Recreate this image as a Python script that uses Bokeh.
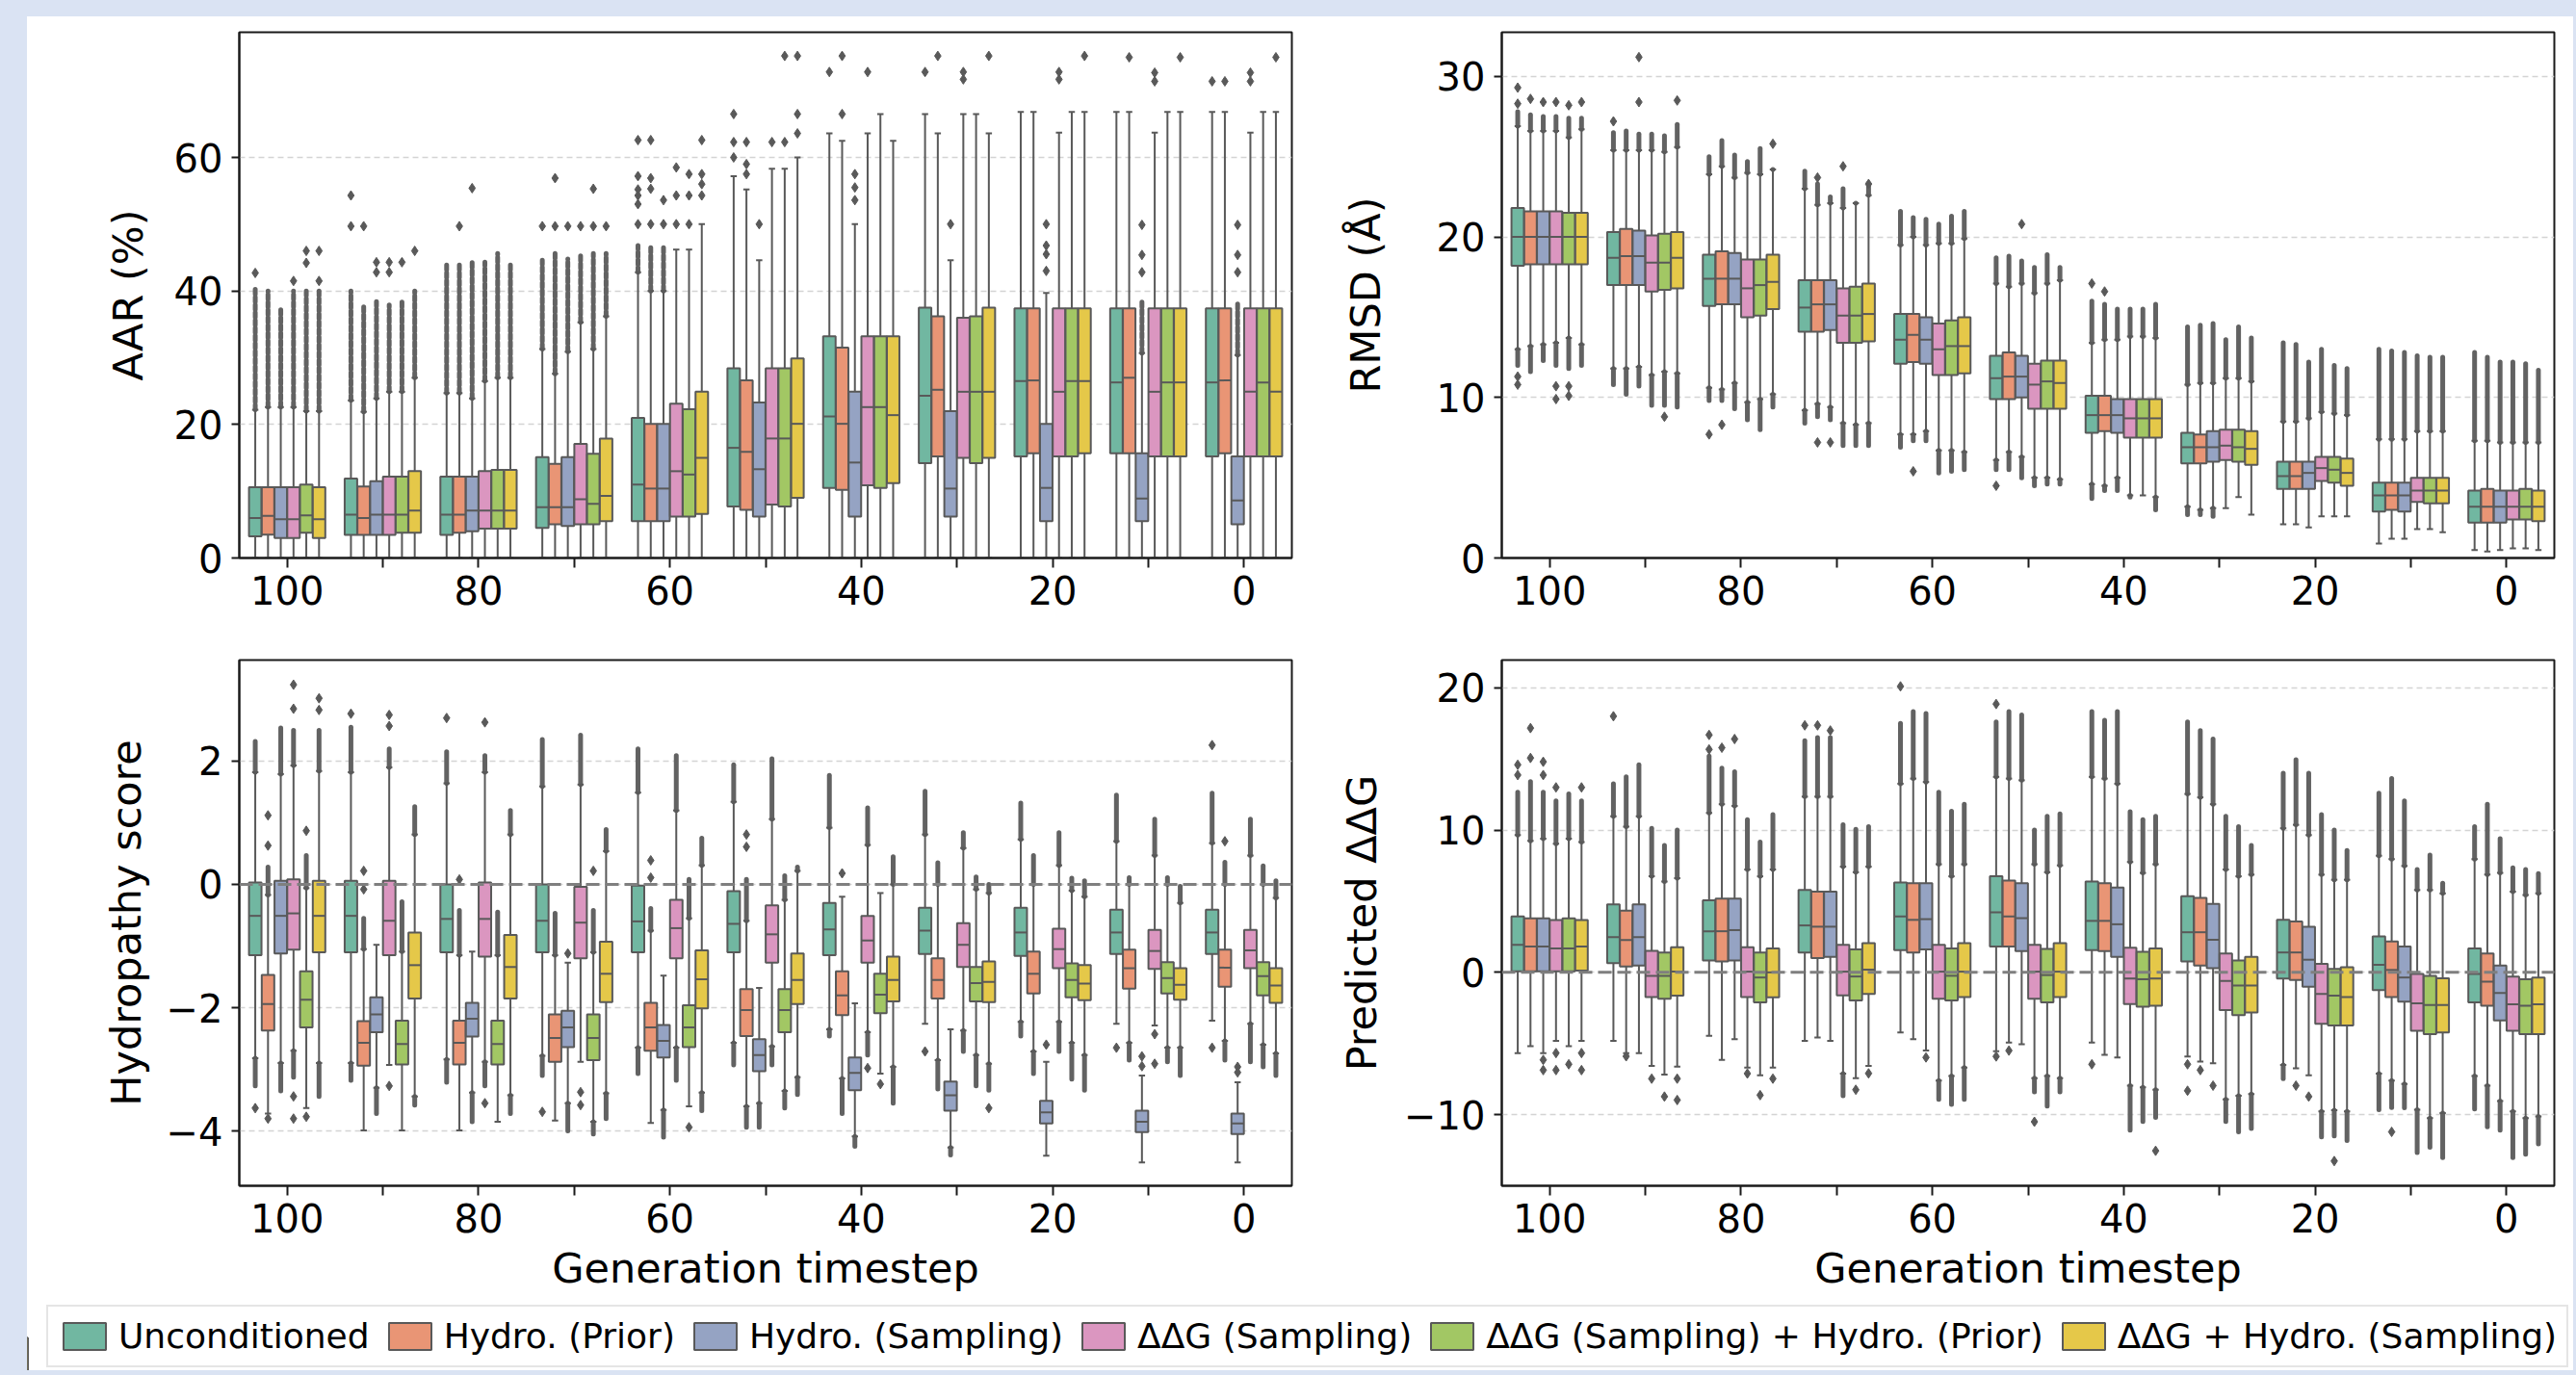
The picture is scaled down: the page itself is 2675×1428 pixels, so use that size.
from bokeh.plotting import figure
from bokeh.models import FixedTicker, Range1d, Span, Legend, LegendItem, Spacer
from bokeh.layouts import column, row
from bokeh.embed import file_html
from bokeh.resources import INLINE

# ---------------- data ----------------
timesteps = [100, 90, 80, 70, 60, 50, 40, 30, 20, 10, 0]
xtick_labels = ["100", "", "80", "", "60", "", "40", "", "20", "", "0"]
series_names = ["Unconditioned", "Hydro. (Prior)", "Hydro. (Sampling)", "ΔΔG (Sampling)",
                "ΔΔG (Sampling) + Hydro. (Prior)", "ΔΔG + Hydro. (Sampling)"]
series_colors = ["#71b7a1", "#e99575", "#95a3c3", "#db96c0", "#a2c764", "#e5c849"]

# rows = timesteps (100 ... 0), columns = series
aar_q1 = [[3.25, 3.5, 3.0, 3.0, 3.8, 3.0], [3.45, 3.45, 3.45, 3.45, 3.8, 3.8], [3.45, 3.8, 4.0, 4.4, 4.4, 4.4],
          [4.5, 5.05, 4.8, 5.05, 5.05, 5.5], [5.5, 5.5, 5.5, 6.2, 6.2, 6.6], [7.7, 7.2, 6.2, 8.0, 7.7, 9.0],
          [10.5, 10.2, 6.2, 10.9, 10.5, 11.2], [14.2, 15.2, 6.2, 15.0, 14.2, 15.0], [15.2, 15.7, 5.5, 15.2, 15.2, 15.7],
          [15.7, 15.7, 5.5, 15.2, 15.2, 15.2], [15.2, 15.7, 5.05, 15.2, 15.2, 15.2]]
aar_med = [[6.0, 6.3, 5.8, 5.8, 6.4, 5.8], [6.5, 6.0, 6.5, 6.5, 6.5, 7.1], [6.5, 6.5, 7.1, 7.1, 7.1, 7.1],
           [7.6, 7.6, 7.6, 8.8, 8.1, 9.3], [11.0, 10.4, 10.4, 13.0, 12.5, 15.0], [16.5, 15.9, 13.3, 17.9, 17.9, 20.1],
           [21.2, 20.1, 14.3, 22.6, 22.6, 21.4], [24.3, 25.2, 10.4, 24.9, 24.9, 24.9], [26.5, 26.6, 10.5, 24.9, 26.5, 26.5],
           [26.3, 27.0, 8.9, 24.9, 26.3, 26.3], [26.3, 26.6, 8.6, 24.9, 26.3, 24.9]]
aar_q3 = [[10.6, 10.6, 10.6, 10.6, 11.0, 10.6], [11.9, 10.7, 11.5, 12.2, 12.2, 13.0], [12.2, 12.2, 12.2, 13.0, 13.2, 13.2],
          [15.1, 14.1, 15.1, 17.1, 15.6, 17.9], [21.0, 20.1, 20.1, 23.1, 22.3, 24.9], [28.4, 26.6, 23.3, 28.4, 28.4, 29.9],
          [33.2, 31.5, 24.9, 33.2, 33.2, 33.2], [37.5, 36.2, 22.0, 36.0, 36.2, 37.5], [37.4, 37.4, 20.1, 37.4, 37.4, 37.4],
          [37.4, 37.4, 15.7, 37.4, 37.4, 37.4], [37.4, 37.4, 15.2, 37.4, 37.4, 37.4]]
aar_whi = [[22.2, 22.6, 22.6, 22.6, 22.0, 22.0], [23.6, 21.9, 23.9, 24.9, 24.9, 27.0], [24.7, 24.7, 23.9, 26.5, 27.0, 27.0],
           [31.3, 27.6, 30.9, 35.3, 31.3, 36.2], [42.8, 40.0, 40.0, 46.2, 46.2, 50.0], [57.2, 55.2, 44.6, 58.3, 58.3, 60.0],
           [63.6, 62.5, 50.0, 63.6, 66.5, 62.5], [66.5, 63.6, 44.6, 66.5, 66.5, 63.6], [66.8, 66.8, 39.7, 63.7, 66.8, 66.8],
           [66.8, 66.8, 30.7, 63.7, 66.8, 66.8], [66.8, 66.8, 30.4, 63.7, 66.8, 66.8]]
aar_wlo = [[0, 0, 0, 0, 0, 0], [0, 0, 0, 0, 0, 0], [0, 0, 0, 0, 0, 0], [0, 0, 0, 0, 0, 0], [0, 0, 0, 0, 0, 0],
           [0, 0, 0, 0, 0, 0], [0, 0, 0, 0, 0, 0], [0, 0, 0, 0, 0, 0], [0, 0, 0, 0, 0, 0], [0, 0, 0, 0, 0, 0],
           [0, 0, 0, 0, 0, 0]]
aar_hib = [[40.5, 40.0, 37.6, 40.0, 40.0, 40.0], [40.0, 37.6, 38.4, 37.9, 38.4, 40.0], [44.3, 44.3, 44.3, 44.3, 45.6, 44.3],
           [44.6, 45.6, 44.8, 45.6, 45.6, 45.6], [46.8, 46.8, 46.8, None, None, None],
           [None, None, None, None, None, None], [None, None, None, None, None, None],
           [None, None, None, None, None, None], [None, None, None, None, None, None],
           [None, None, 38.4, None, None, None], [None, None, 38.4, None, None, None]]
aar_lob = [[None, None, None, None, None, None] for _ in timesteps]
aar_iso = [(0, 0, 42.7), (3, 0, 41.5), (4, 0, 44.2), (4, 0, 46.0), (5, 0, 41.5), (5, 0, 46.0),
           (0, 1, 49.7), (0, 1, 54.3), (1, 1, 49.7), (2, 1, 42.8), (2, 1, 44.3), (3, 1, 42.8), (3, 1, 44.3),
           (4, 1, 44.3), (5, 1, 46.0), (1, 2, 49.7), (2, 2, 55.4),
           (0, 3, 49.7), (1, 3, 49.7), (1, 3, 56.9), (2, 3, 49.7), (3, 3, 49.7), (4, 3, 49.7), (4, 3, 55.3), (5, 3, 49.7),
           (0, 4, 50.0), (0, 4, 53.0), (0, 4, 54.3), (0, 4, 55.2), (0, 4, 57.2), (0, 4, 62.6),
           (1, 4, 50.0), (1, 4, 55.3), (1, 4, 56.9), (1, 4, 62.6), (2, 4, 50.0), (2, 4, 53.6),
           (3, 4, 50.0), (3, 4, 54.3), (3, 4, 58.5), (4, 4, 50.0), (4, 4, 54.3), (4, 4, 57.5),
           (5, 4, 54.3), (5, 4, 56.0), (5, 4, 57.5), (5, 4, 62.6),
           (0, 5, 60.0), (0, 5, 62.3), (0, 5, 66.5), (1, 5, 57.5), (1, 5, 59.0), (1, 5, 62.3), (2, 5, 50.0),
           (3, 5, 62.3), (4, 5, 62.3), (4, 5, 75.2), (5, 5, 63.6), (5, 5, 66.5), (5, 5, 75.2),
           (0, 6, 72.8), (1, 6, 66.5), (1, 6, 75.2), (2, 6, 53.6), (2, 6, 55.5), (2, 6, 57.5), (3, 6, 72.8),
           (0, 7, 72.8), (1, 7, 75.2), (2, 7, 50.0), (3, 7, 71.7), (3, 7, 72.8), (5, 7, 75.2),
           (2, 8, 43.0), (2, 8, 45.5), (2, 8, 46.8), (2, 8, 50.0), (3, 8, 71.7), (3, 8, 72.8), (5, 8, 75.2),
           (1, 9, 75.0), (2, 9, 42.8), (2, 9, 45.4), (2, 9, 49.9), (3, 9, 71.4), (3, 9, 72.7), (5, 9, 75.0),
           (0, 10, 71.4), (1, 10, 71.4), (2, 10, 42.8), (2, 10, 45.4), (2, 10, 49.9), (3, 10, 71.4), (3, 10, 72.7),
           (5, 10, 75.0)]

rmsd_q1 = [[18.2, 18.3, 18.3, 18.3, 18.3, 18.3], [17.0, 17.0, 17.0, 16.6, 16.7, 16.8], [15.7, 15.8, 15.8, 15.0, 15.1, 15.5],
           [14.1, 14.1, 14.2, 13.4, 13.4, 13.5], [12.1, 12.2, 12.1, 11.4, 11.4, 11.5], [9.9, 9.9, 10.0, 9.3, 9.3, 9.3],
           [7.8, 7.9, 7.8, 7.5, 7.5, 7.5], [5.9, 5.9, 6.0, 6.1, 6.0, 5.8], [4.3, 4.3, 4.3, 4.8, 4.7, 4.5],
           [2.9, 3.0, 2.9, 3.5, 3.4, 3.4], [2.2, 2.2, 2.2, 2.4, 2.4, 2.3]]
rmsd_med = [[20.0, 20.0, 20.0, 20.0, 20.0, 20.0], [18.7, 18.8, 18.8, 18.4, 18.4, 18.7], [17.4, 17.4, 17.4, 16.8, 17.0, 17.2],
            [15.6, 15.8, 15.8, 15.1, 15.1, 15.2], [13.6, 13.9, 13.6, 13.0, 13.2, 13.2], [11.2, 11.3, 11.3, 10.8, 11.0, 10.9],
            [8.9, 8.9, 8.9, 8.7, 8.7, 8.7], [6.9, 6.9, 6.9, 7.0, 6.9, 6.8], [5.1, 5.1, 5.3, 5.6, 5.5, 5.3],
            [3.9, 3.9, 3.9, 4.2, 4.2, 4.2], [3.2, 3.2, 3.2, 3.2, 3.2, 3.2]]
rmsd_q3 = [[21.8, 21.6, 21.6, 21.6, 21.5, 21.5], [20.3, 20.5, 20.4, 20.1, 20.2, 20.3], [18.9, 19.1, 19.0, 18.6, 18.6, 18.9],
           [17.3, 17.3, 17.3, 16.8, 16.9, 17.1], [15.2, 15.2, 15.0, 14.6, 14.8, 15.0], [12.6, 12.8, 12.6, 12.1, 12.3, 12.3],
           [10.1, 10.1, 9.9, 9.9, 9.9, 9.9], [7.8, 7.7, 7.9, 8.0, 8.0, 7.9], [6.0, 6.0, 6.0, 6.3, 6.3, 6.2],
           [4.7, 4.7, 4.7, 5.0, 5.0, 5.0], [4.2, 4.3, 4.2, 4.2, 4.3, 4.2]]
rmsd_whi = [[26.9, 26.6, 26.6, 26.6, 26.2, 26.7], [25.4, 25.4, 25.4, 25.4, 25.3, 25.6], [23.9, 24.4, 23.7, 24.0, 23.9, 24.2],
            [23.0, 22.0, 22.1, 21.8, 22.1, 22.6], [19.5, 20.0, 19.5, 19.6, 19.6, 19.9], [17.1, 16.9, 17.1, 16.5, 17.1, 17.3],
            [13.4, 13.6, 13.6, 13.8, 13.8, 13.7], [10.8, 10.9, 10.9, 11.2, 11.2, 11.0], [8.5, 8.5, 8.7, 9.1, 9.0, 8.9],
            [7.4, 7.4, 7.4, 7.9, 7.9, 7.9], [7.3, 7.3, 7.2, 7.2, 7.2, 7.2]]
rmsd_wlo = [[13.0, 13.2, 13.3, 13.4, 13.7, 13.3], [11.8, 11.8, 11.9, 11.4, 11.6, 11.5], [10.6, 10.5, 10.9, 9.7, 9.9, 10.2],
            [9.2, 9.6, 9.4, 8.4, 8.3, 8.4], [7.7, 7.7, 7.9, 6.7, 6.7, 6.6], [6.1, 6.6, 6.3, 5.0, 5.0, 4.9],
            [4.6, 4.5, 5.0, 3.9, 3.9, 3.8], [3.2, 3.0, 3.1, 3.1, 3.8, 2.7], [2.1, 2.1, 1.9, 2.6, 2.6, 2.6],
            [0.9, 1.2, 1.2, 1.8, 1.8, 1.6], [0.5, 0.4, 0.5, 0.6, 0.6, 0.5]]
rmsd_hib = [[27.8, 27.6, 27.5, 27.5, 27.4, 27.4], [26.5, 26.6, 26.4, 26.4, 26.3, 27.0], [25.0, 26.0, 25.1, 24.7, 25.5, 24.2],
            [24.1, 23.3, 22.5, 23.0, 22.1, 23.3], [21.6, 21.2, 21.1, 20.8, 21.3, 21.6], [18.7, 18.8, 18.5, 18.1, 18.9, 18.1],
            [16.0, 15.8, 15.5, 15.5, 15.5, 15.8], [14.4, 14.5, 14.6, 13.6, 14.4, 13.7], [13.4, 13.3, 12.2, 13.0, 12.0, 11.8],
            [13.0, 12.9, 12.8, 12.6, 12.5, 12.5], [12.8, 12.5, 12.2, 12.2, 12.1, 11.7]]
rmsd_lob = [[12.0, 11.6, 12.3, 12.0, 11.8, 12.0], [10.8, 10.2, 10.7, 9.5, 9.5, 9.4], [9.8, 9.8, 9.3, 8.6, 8.0, 9.4],
            [8.4, 8.8, 8.6, 7.0, 7.0, 7.0], [6.9, 7.3, 7.3, 5.3, 5.4, 5.5], [5.5, 5.5, 5.0, 4.5, 4.6, 4.6],
            [3.7, 4.2, 4.2, 3.8, None, 3.0], [2.7, 2.7, 2.6, None, None, None],
            [None, None, None, None, None, None], [None, None, None, None, None, None],
            [None, None, None, None, None, None]]
rmsd_iso = [(0, 0, 28.3), (0, 0, 29.3), (1, 0, 28.6), (2, 0, 28.4), (3, 0, 28.4), (4, 0, 28.2), (5, 0, 28.4),
            (0, 0, 11.3), (0, 0, 10.8), (3, 0, 10.7), (3, 0, 9.9), (4, 0, 10.7), (4, 0, 10.1),
            (0, 1, 27.2), (2, 1, 28.4), (2, 1, 31.2), (5, 1, 28.5), (4, 1, 8.8),
            (0, 2, 7.7), (1, 2, 8.3), (5, 2, 25.8), (1, 3, 23.7), (3, 3, 24.4), (5, 3, 23.3), (1, 3, 7.2), (2, 3, 7.2),
            (1, 4, 5.4), (2, 5, 20.8), (0, 5, 4.5), (0, 6, 17.1), (1, 6, 16.6)]

hyd_q1 = [[-1.15, -2.37, -1.12, -1.06, -2.32, -1.10], [-1.10, -2.94, -2.40, -1.15, -2.92, -1.85],
          [-1.10, -2.92, -2.47, -1.17, -2.92, -1.85], [-1.10, -2.88, -2.64, -1.20, -2.85, -1.91],
          [-1.10, -2.70, -2.81, -1.20, -2.64, -2.01], [-1.10, -2.46, -3.03, -1.27, -2.40, -1.94],
          [-1.15, -2.12, -3.34, -1.27, -2.09, -1.90], [-1.13, -1.85, -3.67, -1.34, -1.90, -1.91],
          [-1.16, -1.77, -3.88, -1.36, -1.83, -1.88], [-1.13, -1.69, -4.02, -1.37, -1.77, -1.87],
          [-1.13, -1.66, -4.05, -1.36, -1.80, -1.92]]
hyd_med = [[-0.51, -1.94, -0.51, -0.47, -1.87, -0.51], [-0.51, -2.57, -2.11, -0.59, -2.59, -1.31],
           [-0.56, -2.57, -2.18, -0.56, -2.59, -1.34], [-0.59, -2.49, -2.32, -0.62, -2.49, -1.45],
           [-0.60, -2.32, -2.54, -0.71, -2.32, -1.54], [-0.64, -2.04, -2.77, -0.81, -2.04, -1.55],
           [-0.73, -1.80, -3.06, -0.91, -1.79, -1.55], [-0.75, -1.55, -3.42, -0.98, -1.60, -1.58],
           [-0.78, -1.45, -3.70, -1.05, -1.55, -1.61], [-0.78, -1.36, -3.85, -1.08, -1.52, -1.63],
           [-0.78, -1.35, -3.88, -1.07, -1.49, -1.64]]
hyd_q3 = [[0.03, -1.47, 0.06, 0.08, -1.41, 0.06], [0.06, -2.22, -1.83, 0.06, -2.21, -0.78],
          [0.0, -2.21, -1.92, 0.03, -2.21, -0.82], [0.0, -2.11, -2.05, -0.04, -2.11, -0.93],
          [-0.02, -1.92, -2.28, -0.25, -1.96, -1.07], [-0.11, -1.70, -2.51, -0.34, -1.70, -1.12],
          [-0.30, -1.41, -2.81, -0.51, -1.45, -1.17], [-0.38, -1.20, -3.20, -0.63, -1.34, -1.25],
          [-0.38, -1.09, -3.51, -0.72, -1.28, -1.31], [-0.41, -1.06, -3.67, -0.74, -1.26, -1.36],
          [-0.41, -1.06, -3.72, -0.74, -1.26, -1.36]]
hyd_whi = [[1.82, -0.17, 1.79, 1.93, -0.06, 1.84], [1.82, -1.05, -0.98, 1.90, -1.09, 0.81],
           [1.64, -1.15, -1.09, 1.82, -1.15, 0.81], [1.59, -1.15, -1.27, 1.62, -1.10, 0.54],
           [1.49, -0.75, -1.48, 1.20, -0.55, 0.31], [1.34, -0.59, -1.68, 1.06, -0.25, 0.22],
           [0.92, -0.20, -1.93, 0.64, -0.14, 0.0], [0.81, 0.0, -2.35, 0.59, -0.08, -0.14],
           [0.73, 0.0, -2.88, 0.31, -0.10, -0.20], [0.70, 0.0, -3.10, 0.47, 0.0, -0.30],
           [0.67, 0.0, -3.21, 0.47, 0.0, -0.22]]
hyd_wlo = [[-2.82, -3.72, -2.90, -2.70, -3.63, -2.90], [-2.90, -3.99, -3.30, -2.93, -3.99, -3.44],
           [-2.84, -3.99, -3.38, -2.88, -3.85, -3.42], [-2.78, -3.83, -3.55, -2.88, -3.85, -3.39],
           [-2.65, -3.87, -3.66, -2.65, -3.60, -3.38], [-2.57, -3.60, -3.55, -2.63, -3.35, -3.13],
           [-2.35, -3.15, -4.09, -2.40, -3.07, -2.96], [-2.26, -2.85, -4.27, -2.37, -2.77, -2.91],
           [-2.23, -2.71, -4.40, -2.23, -2.57, -2.77], [-2.26, -2.57, -4.51, -2.29, -2.65, -2.65],
           [-2.21, -2.54, -4.51, -2.26, -2.60, -2.74]]
hyd_hib = [[2.32, 0.28, 2.54, 2.50, 0.47, 2.50], [2.55, -0.55, None, 2.20, -0.28, 1.26],
           [2.15, -0.42, None, 2.09, -0.45, 1.20], [2.35, -0.47, None, 2.42, -0.42, 0.89],
           [2.20, -0.39, None, 2.09, 0.08, 0.75], [1.94, 0.08, None, 2.04, 0.14, 0.28],
           [1.77, None, None, 1.24, None, 0.45], [1.51, 0.35, None, 0.84, 0.12, 0.0],
           [1.32, 0.47, None, 0.84, 0.10, 0.06], [1.45, 0.11, None, 1.06, 0.11, -0.03],
           [1.48, 0.36, None, 1.06, 0.30, 0.06]]
hyd_lob = [[-3.27, None, -3.35, -3.13, None, -3.44], [-3.18, None, -3.72, None, None, -3.58],
           [-3.21, None, -3.85, -3.27, None, -3.72], [-3.10, None, -4.00, None, -4.05, -3.80],
           [-3.07, None, -4.10, -3.18, None, -3.67], [-2.93, -3.94, -3.94, -2.93, -3.63, -3.41],
           [-2.46, -3.72, -4.25, -2.77, None, -3.55], [None, -3.32, -4.39, -2.71, -3.27, -3.34],
           [-2.46, -3.07, None, -2.71, -3.16, -3.34], [None, -2.85, None, None, -2.88, -3.10],
           [None, -2.85, None, -2.88, -2.96, -3.10]]
hyd_iso = [(0, 0, -3.63), (1, 0, 0.63), (1, 0, 1.12), (1, 0, -3.80), (3, 0, 2.85), (3, 0, 3.24), (3, 0, -3.44),
           (3, 0, -3.80), (4, 0, 0.87), (4, 0, -3.77), (5, 0, 2.83), (5, 0, 3.02),
           (0, 1, 2.77), (1, 1, -0.08), (1, 1, 0.22), (3, 1, 2.57), (3, 1, 2.75), (3, 1, -3.27),
           (0, 2, 2.70), (1, 2, 0.08), (3, 2, 2.63), (3, 2, -3.55),
           (0, 3, -3.69), (2, 3, -1.12), (3, 3, -3.37), (3, 3, -3.58), (4, 3, 0.22),
           (1, 4, 0.11), (1, 4, 0.39), (4, 4, -3.94), (1, 5, 0.61), (1, 5, 0.81),
           (1, 6, 0.18), (3, 6, -2.98), (4, 6, -3.24), (0, 7, -2.71), (5, 7, -3.63), (2, 8, -2.60),
           (0, 9, -2.65), (2, 9, -2.79), (2, 9, -2.95), (3, 9, -2.43), (3, 9, -2.91),
           (0, 10, 2.26), (0, 10, -2.65), (1, 10, 0.70), (2, 10, -2.96), (2, 10, -3.05)]

ddg_q1 = [[0.07, 0.07, 0.07, 0.07, 0.07, 0.12], [0.65, 0.41, 0.48, -1.74, -1.86, -1.64],
          [0.84, 0.77, 0.84, -1.74, -2.10, -1.76], [1.40, 1.01, 1.09, -1.62, -1.98, -1.52],
          [1.57, 1.40, 1.62, -1.86, -1.98, -1.74], [1.81, 1.81, 1.50, -1.86, -2.10, -1.74],
          [1.57, 1.50, 1.09, -2.22, -2.41, -2.34], [0.77, 0.48, 0.29, -2.65, -3.01, -2.82],
          [-0.43, -0.53, -1.01, -3.62, -3.74, -3.74], [-1.25, -1.74, -2.05, -4.10, -4.34, -4.22],
          [-2.10, -2.34, -3.38, -4.10, -4.34, -4.34]]
ddg_med = [[1.93, 1.81, 1.81, 1.69, 1.69, 1.81], [2.48, 2.27, 2.48, -0.24, -0.24, 0.05],
           [2.89, 2.89, 2.97, 0.05, -0.36, 0.0], [3.30, 3.21, 3.21, 0.05, -0.29, 0.19],
           [3.93, 3.69, 3.74, 0.05, -0.24, 0.05], [4.22, 3.93, 3.81, 0.05, -0.19, 0.05],
           [3.62, 3.62, 3.38, -0.43, -0.48, -0.43], [2.82, 2.82, 2.29, -0.60, -0.92, -0.92],
           [1.40, 1.40, 0.89, -1.52, -1.64, -1.74], [0.53, 0.17, -0.36, -2.17, -2.29, -2.29],
           [-0.12, -0.65, -1.45, -2.24, -2.34, -2.24]]
ddg_q3 = [[3.93, 3.79, 3.79, 3.67, 3.79, 3.67], [4.77, 4.34, 4.77, 1.52, 1.40, 1.76],
          [5.06, 5.18, 5.18, 1.76, 1.40, 1.69], [5.79, 5.67, 5.67, 1.93, 1.62, 2.05],
          [6.32, 6.27, 6.27, 1.93, 1.69, 2.05], [6.75, 6.46, 6.27, 1.93, 1.64, 2.05],
          [6.39, 6.27, 5.96, 1.74, 1.45, 1.69], [5.35, 5.23, 4.82, 1.33, 0.84, 1.09],
          [3.69, 3.57, 3.21, 0.60, 0.24, 0.36], [2.53, 2.17, 1.81, -0.12, -0.24, -0.41],
          [1.69, 1.33, 0.48, -0.29, -0.48, -0.36]]
ddg_whi = [[9.65, 9.24, 9.40, 9.04, 9.40, 9.16], [10.97, 10.25, 10.97, 6.75, 6.39, 6.63],
           [11.21, 11.82, 11.70, 7.23, 6.75, 7.23], [12.35, 12.35, 12.35, 7.43, 7.04, 7.43],
           [13.26, 13.62, 13.38, 7.60, 6.75, 7.60], [13.74, 13.62, 13.50, 7.60, 7.04, 7.52],
           [13.74, 13.62, 13.26, 7.76, 6.99, 7.60], [12.54, 12.30, 11.82, 7.23, 6.75, 6.87],
           [10.13, 10.37, 9.65, 6.87, 6.51, 6.51], [8.20, 7.96, 7.48, 5.79, 5.79, 5.55],
           [7.96, 6.87, 7.00, 5.67, 5.43, 5.55]]
ddg_wlo = [[-5.67, -5.18, -5.67, -4.82, -5.18, -4.82], [-4.82, -5.67, -5.67, -6.58, -7.19, -6.63],
           [-4.46, -6.15, -4.70, -6.70, -7.23, -6.70], [-4.82, -4.58, -4.82, -7.11, -7.43, -6.58],
           [-4.22, -4.70, -5.50, -7.60, -7.28, -6.70], [-5.55, -4.94, -5.06, -7.43, -7.28, -7.43],
           [-4.94, -5.79, -5.98, -7.96, -8.08, -8.25], [-5.91, -6.27, -6.39, -8.92, -8.68, -8.56],
           [-6.51, -6.75, -7.23, -9.77, -9.69, -9.77], [-7.11, -7.60, -7.84, -9.65, -10.25, -9.89],
           [-7.28, -7.96, -9.04, -9.77, -10.25, -10.13]]
ddg_hib = [[12.66, 13.4, 12.66, 12.06, 12.54, 12.06], [13.26, 13.74, 14.59, 10.13, 8.92, 10.0],
           [15.2, 14.35, 14.1, 10.73, 9.16, 11.09], [16.28, 16.5, 16.5, 10.37, 10.06, 10.25],
           [17.5, 18.33, 18.2, 12.66, 11.33, 11.82], [17.6, 18.33, 18.1, 10.0, 10.97, 11.14],
           [18.33, 17.72, 18.33, 11.29, 10.73, 10.97], [17.6, 17.0, 16.4, 10.97, 10.25, 8.92],
           [13.99, 14.95, 13.99, 11.09, 10.0, 8.56], [12.59, 13.62, 12.06, 7.23, 8.25, 6.27],
           [10.25, 11.82, 9.40, 7.35, 7.23, 6.94]]
ddg_lob = [[None, None, None, None, None, None], [None, None, None, None, None, None],
           [None, None, None, None, None, None], [None, None, None, -8.68, None, None],
           [None, None, None, -8.92, -9.28, -8.92], [None, None, None, -8.4, -9.40, -8.4],
           [None, None, None, -11.09, -10.49, -10.2], [None, None, None, -10.49, -11.21, -10.97],
           [-7.47, None, None, -11.57, -11.5, -11.82], [-9.65, -9.5, -9.52, -12.66, -12.30, -13.02],
           [-9.6, -10.85, -11.09, -13.02, -12.78, -12.06]]
ddg_iso = [(0, 0, 13.87), (0, 0, 14.59), (1, 0, 15.07), (1, 0, 17.17), (2, 0, 13.87), (2, 0, 14.8), (3, 0, 13.0),
           (5, 0, 13.0), (2, 0, -6.15), (2, 0, -6.87), (3, 0, -5.67), (3, 0, -6.87), (4, 0, -6.46), (5, 0, -5.67),
           (5, 0, -6.87), (0, 1, 18.0), (1, 1, -5.9), (3, 1, -7.47), (4, 1, -8.73), (5, 1, -7.47), (5, 1, -8.97),
           (0, 2, 15.67), (0, 2, 16.69), (1, 2, 15.79), (2, 2, 16.4), (3, 2, -7.11), (4, 2, -8.63), (5, 2, -7.47),
           (0, 3, 17.36), (1, 3, 17.36), (2, 3, 17.0), (4, 3, -8.25), (5, 3, -7.1),
           (0, 4, 20.1), (2, 4, -5.98), (0, 5, 18.86), (0, 5, -5.91), (1, 5, -5.5), (3, 5, -10.5),
           (0, 6, -6.46), (5, 6, -12.54), (0, 7, -6.46), (0, 7, -8.32), (1, 7, -6.87), (2, 7, -7.96),
           (1, 8, -7.96), (2, 8, -8.73), (4, 8, -13.26), (1, 9, -11.21)]

aar_yticks = [0, 20, 40, 60]
rmsd_yticks = [0, 10, 20, 30]
hyd_yticks = [-4, -2, 0, 2]
ddg_yticks = [-10, 0, 10, 20]

# ---------------- style ----------------
FONT = "DejaVu Sans"
GRAY = "#595959"
BAND_GRAY = "#626262"
PAGE_BG = "#dae3f3"


def make_fig(width, height, mbl, mbr, mbt, mbb, yr, yticks, ylabel, ylab_standoff, xlabel):
    p = figure(width=width, height=height, x_range=Range1d(-0.5, len(timesteps) - 0.5),
               y_range=Range1d(*yr), toolbar_location=None, output_backend="svg",
               min_border_left=mbl, min_border_right=mbr, min_border_top=mbt, min_border_bottom=mbb,
               background_fill_color="white", border_fill_color="white")
    p.outline_line_color = "#1a1a1a"
    p.outline_line_width = 2
    p.xgrid.visible = False
    p.ygrid.grid_line_color = "#d4d4d4"
    p.ygrid.grid_line_dash = "6 4"
    p.ygrid.grid_line_width = 1.5
    p.xaxis.ticker = FixedTicker(ticks=list(range(len(timesteps))))
    p.xaxis.major_label_overrides = {i: lab for i, lab in enumerate(xtick_labels)}
    p.yaxis.ticker = FixedTicker(ticks=yticks)
    p.yaxis.major_label_overrides = {t: str(t).replace("-", "\u2212") for t in yticks}
    for ax in (p.xaxis[0], p.yaxis[0]):
        ax.axis_line_color = "#1a1a1a"
        ax.axis_line_width = 2
        ax.major_tick_line_color = "#1a1a1a"
        ax.major_tick_line_width = 2
        ax.major_tick_in = 0
        ax.minor_tick_line_color = None
        ax.major_label_text_font = FONT
        ax.major_label_text_font_size = "40px"
        ax.major_label_text_color = "black"
        ax.axis_label_text_font = FONT
        ax.axis_label_text_font_size = "43px"
        ax.axis_label_text_font_style = "normal"
        ax.axis_label_text_color = "black"
    p.xaxis.major_tick_out = 10
    p.xaxis.major_label_standoff = 8
    p.yaxis.major_tick_out = 8
    p.yaxis.major_label_standoff = 9
    p.yaxis.axis_label = ylabel
    p.yaxis.axis_label_standoff = ylab_standoff
    if xlabel:
        p.xaxis.axis_label = xlabel
        p.xaxis.axis_label_standoff = 9
    return p


def draw_boxes(p, q1, med, q3, whi, wlo, hib, lob, iso, band_dash="solid"):
    ng, ns = len(timesteps), len(series_names)
    dodge = 0.8 / ns
    bw = dodge * 0.98
    xpos = [[g + (s - (ns - 1) / 2) * dodge for s in range(ns)] for g in range(ng)]
    for s in range(ns):
        xs = [xpos[g][s] for g in range(ng)]
        # dense outlier columns
        bx, b0, b1 = [], [], []
        for g in range(ng):
            if hib[g][s] is not None:
                bx.append(xs[g]); b0.append(whi[g][s]); b1.append(hib[g][s])
            if lob[g][s] is not None:
                bx.append(xs[g]); b0.append(wlo[g][s]); b1.append(lob[g][s])
        if bx:
            p.segment(x0=bx, y0=b0, x1=bx, y1=b1, line_color=BAND_GRAY, line_width=5, line_cap="round",
                      line_dash=band_dash)
        # whiskers
        p.segment(x0=xs, y0=[q3[g][s] for g in range(ng)], x1=xs, y1=[whi[g][s] for g in range(ng)],
                  line_color=GRAY, line_width=2)
        p.segment(x0=xs, y0=[q1[g][s] for g in range(ng)], x1=xs, y1=[wlo[g][s] for g in range(ng)],
                  line_color=GRAY, line_width=2)
        # caps
        for arr in (whi, wlo):
            p.segment(x0=[x - bw / 4 for x in xs], y0=[arr[g][s] for g in range(ng)],
                      x1=[x + bw / 4 for x in xs], y1=[arr[g][s] for g in range(ng)],
                      line_color=GRAY, line_width=2)
        # boxes
        p.vbar(x=xs, width=bw, bottom=[q1[g][s] for g in range(ng)], top=[q3[g][s] for g in range(ng)],
               fill_color=series_colors[s], line_color=GRAY, line_width=2)
        # medians
        p.segment(x0=[x - bw / 2 for x in xs], y0=[med[g][s] for g in range(ng)],
                  x1=[x + bw / 2 for x in xs], y1=[med[g][s] for g in range(ng)],
                  line_color=GRAY, line_width=2)
    ox = [xpos[g][s] for (s, g, v) in iso]
    oy = [v for (s, g, v) in iso]
    p.scatter(x=ox, y=oy, marker="diamond", size=10, fill_color=GRAY, line_color=GRAY)


LW, RW = 1332, 1312
TH, BH = 633, 705

p_aar = make_fig(LW, TH, 220, 19, 16, 71, (0, 78.75), aar_yticks, "AAR (%)", 20, None)
draw_boxes(p_aar, aar_q1, aar_med, aar_q3, aar_whi, aar_wlo, aar_hib, aar_lob, aar_iso, band_dash="5 3")

p_rmsd = make_fig(RW, TH, 199, 20, 16, 71, (0, 32.75), rmsd_yticks, "RMSD (Å)", 46, None)
draw_boxes(p_rmsd, rmsd_q1, rmsd_med, rmsd_q3, rmsd_whi, rmsd_wlo, rmsd_hib, rmsd_lob, rmsd_iso)

p_hyd = make_fig(LW, BH, 220, 19, 35, 124, (-4.89, 3.64), hyd_yticks, "Hydropathy score", 14, "Generation timestep")
draw_boxes(p_hyd, hyd_q1, hyd_med, hyd_q3, hyd_whi, hyd_wlo, hyd_hib, hyd_lob, hyd_iso)
p_hyd.add_layout(Span(location=0, dimension="width", line_color="#7f7f7f", line_width=3, line_dash="14 6"))

p_ddg = make_fig(RW, BH, 199, 20, 35, 124, (-15.0, 21.95), ddg_yticks, "Predicted ΔΔG", 16, "Generation timestep")
draw_boxes(p_ddg, ddg_q1, ddg_med, ddg_q3, ddg_whi, ddg_wlo, ddg_hib, ddg_lob, ddg_iso)
p_ddg.add_layout(Span(location=0, dimension="width", line_color="#7f7f7f", line_width=3, line_dash="14 6"))

# legend strip (swatch renderers sit outside the visible range; only their legend glyphs show)
lp = figure(width=LW + RW, height=68, x_range=(0, 1), y_range=(0, 1), toolbar_location=None,
            output_backend="svg", min_border=0, outline_line_color=None,
            background_fill_color="white", border_fill_color="white")
lp.axis.visible = False
lp.grid.visible = False
items = []
for s, name in enumerate(series_names):
    r = lp.vbar(x=[-5.0], bottom=[0.0], top=[0.5], width=0.1, fill_color=series_colors[s],
                line_color=GRAY, line_width=2)
    items.append(LegendItem(label=name, renderers=[r]))
legend = Legend(items=items, orientation="horizontal", location=(20, 3),
                label_text_font=FONT, label_text_font_size="36px", label_text_color="black",
                glyph_width=55, glyph_height=35, label_standoff=8, spacing=14, padding=10, margin=0,
                border_line_color="#cccccc", border_line_width=2, background_fill_color="white")
lp.add_layout(legend, "center")

layout = column(Spacer(height=17),
                row(Spacer(width=28),
                    column(row(p_aar, p_rmsd), row(p_hyd, p_ddg), lp,
                           styles={"background-color": "white"})))

html = file_html(layout, INLINE, title="boxplots")
html = html.replace("</head>", "<style>body{background-color:%s;}</style></head>" % PAGE_BG, 1)
open("out.html", "w").write(html)
